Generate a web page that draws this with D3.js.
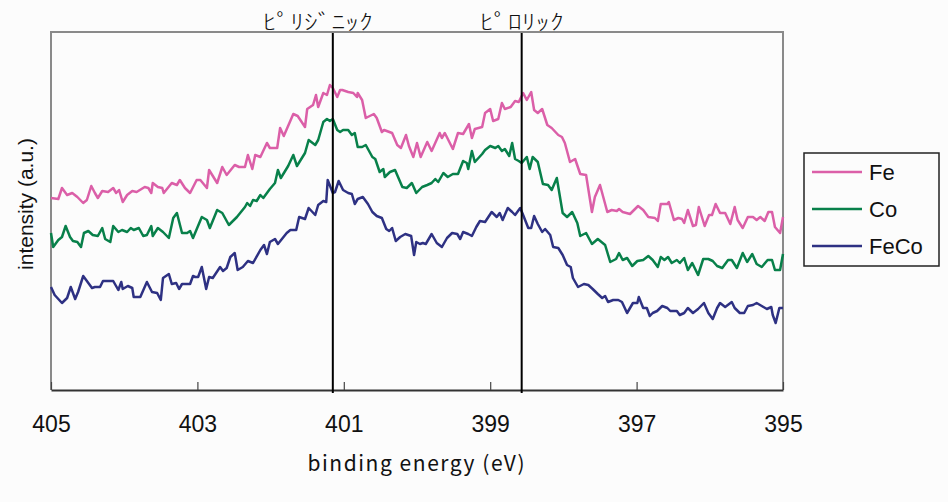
<!DOCTYPE html>
<html lang="ja">
<head>
<meta charset="utf-8">
<title>XPS N1s</title>
<script src="https://d3js.org/d3.v7.min.js"></script>
<style>
  body { margin: 0; background: #fcfcfc; }
  text { font-family: "Liberation Sans", Arial, sans-serif; fill: #111; }
  .jp { font-family: "Noto Sans CJK JP", sans-serif; }
</style>
</head>
<body>
<div id="chart"></div>
<script>
// spectra (binding energy in eV, intensity in arbitrary units)
var feEnergy = [405.00,404.90,404.85,404.78,404.71,404.64,404.56,404.51,404.45,404.40,404.36,404.30,404.22,404.15,404.11,404.07,404.02,403.96,403.89,403.83,403.72,403.67,403.63,403.61,403.54,403.48,403.46,403.35,403.28,403.24,403.17,403.10,403.01,402.96,402.87,402.84,402.73,402.66,402.60,402.49,402.43,402.35,402.31,402.25,402.21,402.14,402.05,402.01,401.91,401.87,401.82,401.69,401.63,401.53,401.50,401.42,401.38,401.35,401.28,401.23,401.19,401.15,401.09,401.05,401.02,400.94,400.87,400.82,400.81,400.75,400.70,400.59,400.55,400.48,400.45,400.34,400.27,400.22,400.15,400.11,400.05,400.00,399.95,399.86,399.80,399.69,399.66,399.62,399.51,399.44,399.37,399.29,399.25,399.21,399.11,399.07,399.00,398.96,398.89,398.84,398.80,398.72,398.66,398.61,398.55,398.50,398.44,398.40,398.35,398.29,398.22,398.16,398.07,398.02,397.98,397.91,397.84,397.77,397.69,397.61,397.57,397.50,397.40,397.34,397.27,397.24,397.19,397.09,396.98,396.91,396.84,396.75,396.71,396.67,396.58,396.56,396.49,396.43,396.38,396.35,396.30,396.23,396.19,396.15,396.07,396.01,395.97,395.92,395.86,395.79,395.72,395.66,395.62,395.55,395.48,395.41,395.36,395.31,395.25,395.20,395.15,395.11,395.04,395.00];
var feIntensity = [192,191,202,195,197,193,187,190,204,197,192,199,198,202,197,200,188,195,199,198,203,202,197,207,203,202,197,207,205,210,202,197,210,210,202,220,207,223,215,225,223,223,235,221,235,233,247,242,242,262,254,276,274,263,281,285,295,283,297,295,305,302,293,300,300,298,297,293,297,290,272,276,272,258,260,257,245,242,255,244,233,247,233,248,239,257,252,257,241,257,256,266,252,261,263,277,281,269,271,287,281,283,289,288,297,290,298,280,277,281,265,262,255,253,247,228,231,216,215,178,193,205,178,180,179,181,178,176,184,180,173,172,169,186,186,188,170,172,171,167,180,164,165,183,164,175,175,186,177,177,166,183,170,162,173,173,170,173,169,178,178,163,157,173];

var coEnergy = [405.00,404.97,404.90,404.85,404.80,404.74,404.70,404.64,404.59,404.55,404.49,404.43,404.36,404.30,404.26,404.19,404.15,404.08,404.03,403.96,403.91,403.87,403.80,403.74,403.69,403.63,403.61,403.54,403.47,403.39,403.33,403.28,403.21,403.14,403.10,403.06,402.94,402.87,402.83,402.73,402.66,402.57,402.46,402.35,402.32,402.28,402.24,402.19,402.14,402.10,402.01,401.94,401.90,401.86,401.76,401.69,401.64,401.53,401.48,401.39,401.35,401.28,401.23,401.19,401.15,401.09,401.05,401.01,400.94,400.89,400.85,400.81,400.75,400.70,400.61,400.57,400.51,400.46,400.44,400.37,400.30,400.20,400.14,400.07,400.01,399.93,399.86,399.80,399.75,399.71,399.64,399.58,399.51,399.44,399.37,399.32,399.30,399.25,399.21,399.11,399.07,399.00,398.93,398.89,398.84,398.80,398.74,398.70,398.66,398.61,398.57,398.50,398.46,398.42,398.35,398.28,398.21,398.16,398.09,398.01,397.95,397.88,397.81,397.77,397.69,397.61,397.53,397.43,397.36,397.28,397.24,397.19,397.13,397.06,396.99,396.91,396.84,396.78,396.71,396.67,396.62,396.57,396.52,396.45,396.41,396.35,396.30,396.24,396.16,396.09,396.02,395.96,395.90,395.83,395.75,395.70,395.63,395.55,395.49,395.42,395.36,395.29,395.21,395.15,395.11,395.04,395.00];
var coIntensity = [157,143,150,153,164,153,149,148,143,157,159,155,154,162,151,148,164,158,160,158,162,160,162,154,155,164,154,162,158,152,172,177,157,157,159,152,173,170,162,180,177,165,173,183,187,184,190,189,195,192,201,207,220,212,224,235,224,237,250,245,250,268,271,269,271,260,258,260,260,255,257,243,243,245,233,231,218,221,213,218,220,203,202,207,197,203,205,207,211,208,217,213,216,216,229,227,221,239,228,236,240,244,242,244,239,241,234,247,231,229,227,233,221,233,228,206,205,200,212,177,173,178,167,154,157,146,151,145,128,131,137,130,132,124,129,130,134,130,123,133,130,133,127,130,127,132,120,127,115,131,131,129,124,122,130,130,122,137,128,136,126,123,130,130,120,120,136];

var fecoEnergy = [405.00,404.95,404.85,404.78,404.73,404.67,404.63,404.56,404.49,404.44,404.40,404.33,404.29,404.15,404.08,404.04,404.02,403.95,403.89,403.87,403.78,403.69,403.62,403.55,403.50,403.47,403.39,403.35,403.29,403.25,403.21,403.10,403.06,403.03,402.99,402.94,402.88,402.84,402.79,402.69,402.65,402.60,402.55,402.49,402.45,402.38,402.31,402.24,402.14,402.09,402.05,402.01,401.94,401.90,401.78,401.73,401.65,401.61,401.53,401.48,401.39,401.35,401.28,401.24,401.22,401.15,401.12,401.07,401.01,400.94,400.89,400.85,400.81,400.74,400.67,400.61,400.55,400.48,400.42,400.38,400.34,400.29,400.23,400.16,400.08,400.04,400.01,399.96,399.92,399.88,399.80,399.73,399.66,399.59,399.52,399.45,399.41,399.37,399.30,399.25,399.19,399.14,399.07,398.98,398.91,398.87,398.83,398.76,398.70,398.66,398.59,398.55,398.48,398.44,398.40,398.35,398.29,398.25,398.18,398.14,398.07,398.01,397.95,397.90,397.87,397.80,397.72,397.66,397.60,397.53,397.47,397.43,397.39,397.32,397.25,397.20,397.13,397.09,397.05,396.99,396.97,396.91,396.86,396.82,396.78,396.72,396.65,396.58,396.54,396.45,396.41,396.35,396.30,396.23,396.16,396.08,396.02,395.96,395.90,395.86,395.79,395.70,395.66,395.59,395.53,395.48,395.41,395.36,395.29,395.22,395.16,395.14,395.10,395.05,395.00];
var fecoIntensity = [103,95,87,92,103,91,98,114,107,102,103,103,109,109,100,108,101,104,102,93,93,108,98,97,90,112,116,106,107,101,106,106,114,113,113,123,101,113,112,123,119,122,133,137,120,123,129,127,140,145,136,148,151,146,157,160,160,173,171,182,175,185,189,188,210,197,198,209,200,197,196,186,191,193,186,178,174,172,161,159,162,149,153,156,154,135,148,146,147,146,156,147,143,152,157,156,151,158,156,154,163,169,168,178,173,177,170,182,178,175,182,175,162,162,174,166,158,161,155,143,142,135,125,123,112,103,106,105,101,96,92,94,88,90,90,88,77,82,87,87,93,82,82,74,77,79,84,82,79,79,75,77,82,77,81,87,77,71,82,87,83,88,82,77,77,84,85,87,84,81,83,75,67,82,82];

var seriesNames = ["Fe", "Co", "FeCo"];
var seriesColors = ["#db5fa8", "#08804a", "#2e3183"];

var xTicks = [405, 403, 401, 399, 397, 395];
var peakEnergy = [401.15, 398.57];
var peakLabel = ["ﾋﾟﾘｼﾞﾆｯｸ", "ﾋﾟﾛﾘｯｸ"];

var W = 948, H = 502;
var margin = {top: 32, right: 165, bottom: 112, left: 51};
var pw = W - margin.left - margin.right,
    ph = H - margin.top - margin.bottom;

var svg = d3.select("#chart").append("svg")
    .attr("width", W)
    .attr("height", H);

svg.append("rect").attr("width", W).attr("height", H).attr("fill", "#fcfcfc");

var g = svg.append("g").attr("transform", "translate(" + margin.left + "," + margin.top + ")");

var x = d3.scaleLinear().domain([405, 395]).range([0, pw]);
var y = d3.scaleLinear().domain([0, ph]).range([ph, 0]);

// frame
g.append("path")
    .attr("d", "M0," + ph + "V0H" + pw + "V" + ph)
    .attr("fill", "none")
    .attr("stroke", "#8a8a8a")
    .attr("stroke-width", 2);

var series = [
  {name: seriesNames[0], color: seriesColors[0], e: feEnergy, v: feIntensity},
  {name: seriesNames[1], color: seriesColors[1], e: coEnergy, v: coIntensity},
  {name: seriesNames[2], color: seriesColors[2], e: fecoEnergy, v: fecoIntensity}
];

var line = d3.line()
    .x(function(d) { return x(d[0]); })
    .y(function(d) { return y(d[1]); });

g.selectAll("path.spec")
    .data(series)
    .enter()
    .append("path")
    .attr("class", "spec")
    .attr("fill", "none")
    .attr("stroke", function(d) { return d.color; })
    .attr("stroke-width", 2.5)
    .attr("stroke-linejoin", "round")
    .attr("d", function(d) { return line(d.e.map(function(e, i) { return [e, d.v[i]]; })); });

// x axis, ticks pointing inward
var xAxis = g.append("g")
    .attr("transform", "translate(0," + ph + ")")
    .call(d3.axisBottom(x).tickValues(xTicks).tickSizeInner(-8).tickSizeOuter(0).tickPadding(20).tickFormat(d3.format("d")));
xAxis.select(".domain").attr("stroke", "#333").attr("stroke-width", 2);
xAxis.selectAll(".tick line").attr("stroke", "#444").attr("stroke-width", 1.2);
xAxis.selectAll(".tick text")
    .attr("font-size", 23)
    .attr("font-family", "Liberation Sans, Arial, sans-serif")
    .attr("fill", "#111")
    .attr("dy", "0.95em");

// peak markers
g.selectAll("line.peak")
    .data(peakEnergy)
    .enter()
    .append("line")
    .attr("class", "peak")
    .attr("x1", function(d) { return x(d); })
    .attr("x2", function(d) { return x(d); })
    .attr("y1", 1)
    .attr("y2", ph + 3)
    .attr("stroke", "#000")
    .attr("stroke-width", 2);

var labelShift = [-15, 0];
var labelWidth = [110, 84];
g.selectAll("text.peak")
    .data(peakEnergy)
    .enter()
    .append("text")
    .attr("class", "peak jp")
    .attr("x", function(d, i) { return x(d) + labelShift[i] - labelWidth[i] / 2; })
    .attr("y", -3)
    .attr("font-size", 21)
    .attr("font-weight", 300)
    .attr("textLength", function(d, i) { return labelWidth[i]; })
    .attr("lengthAdjust", "spacingAndGlyphs")
    .text(function(d, i) { return peakLabel[i]; });

// axis titles
svg.append("text")
    .attr("class", "jp")
    .attr("x", margin.left + pw / 2 - 1)
    .attr("y", 471)
    .attr("text-anchor", "middle")
    .attr("font-size", 21)
    .attr("textLength", 217)
    .text("binding energy (eV)");

svg.append("text")
    .attr("transform", "translate(33," + 204 + ") rotate(-90)")
    .attr("text-anchor", "middle")
    .attr("font-size", 21)
    .text("intensity (a.u.)");

// legend
var legend = svg.append("g").attr("transform", "translate(804,153)");
legend.append("rect")
    .attr("width", 135)
    .attr("height", 113)
    .attr("fill", "#fcfcfc")
    .attr("stroke", "#222")
    .attr("stroke-width", 1.5);

var li = legend.selectAll("g.item")
    .data(series)
    .enter()
    .append("g")
    .attr("transform", function(d, i) { return "translate(0," + (19 + i * 37) + ")"; });
li.append("line")
    .attr("x1", 8).attr("x2", 58)
    .attr("stroke", function(d) { return d.color; })
    .attr("stroke-width", 2.5);
li.append("text")
    .attr("x", 65)
    .attr("dy", "0.36em")
    .attr("font-size", 22)
    .text(function(d) { return d.name; });
</script>
</body>
</html>
